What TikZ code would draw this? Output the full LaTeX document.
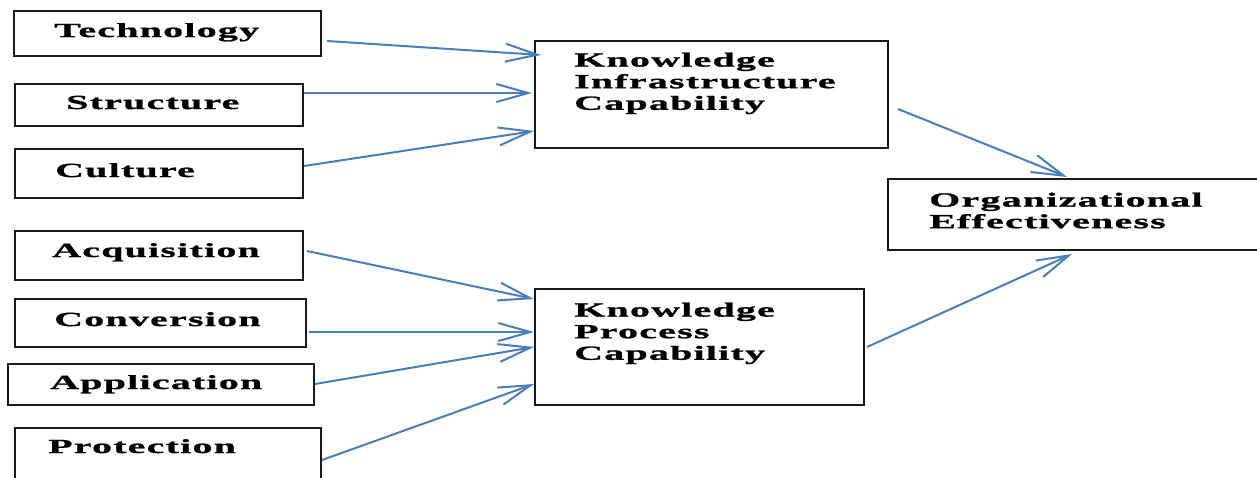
\documentclass[tikz,border=0pt]{standalone}
\usepackage{fontspec}
\setmainfont{Liberation Serif}[FakeStretch=2.0,LetterSpace=6,FakeBold=1.2]
\usetikzlibrary{arrows.meta,calc}
\definecolor{arrowblue}{RGB}{74,126,187}
\definecolor{boxline}{RGB}{25,25,25}
\tikzset{
  box/.style={draw=boxline, line width=2pt, anchor=north west, inner sep=0pt, fill=white},
  lbl/.style={anchor=base west, inner sep=0pt, font=\fontsize{20}{22}\selectfont\bfseries, text=black},
  mlbl/.style={anchor=north west, inner sep=0pt, align=left, font=\fontsize{20}{21.6}\selectfont\bfseries, text=black},
  conn/.style={draw=arrowblue, line width=2pt, -{Straight Barb[length=32pt,width=18pt]}}
}
\begin{document}
\begin{tikzpicture}[x=1pt,y=-1pt]
\useasboundingbox (0,0) rectangle (1257,477);
\fill[white] (0,0) rectangle (1257,477);
% left boxes
\node[box, minimum width=307pt, minimum height=45pt] (tech) at (13,10) {};
\node[box, minimum width=288pt, minimum height=42pt] (struct) at (14,83) {};
\node[box, minimum width=288pt, minimum height=49pt] (cult) at (14,148) {};
\node[box, minimum width=288pt, minimum height=49pt] (acq) at (14,230) {};
\node[box, minimum width=291pt, minimum height=48pt] (conv) at (14,298) {};
\node[box, minimum width=306pt, minimum height=41pt] (app) at (7,363) {};
\node[box, minimum width=306pt, minimum height=60pt] (prot) at (14,427) {};
% middle and right boxes
\node[box, minimum width=353pt, minimum height=107pt] (kic) at (534,40) {};
\node[box, minimum width=329pt, minimum height=116pt] (kpc) at (534,288) {};
\node[box, minimum width=372pt, minimum height=71pt] (oe) at (887,178) {};
% labels
\node[lbl] (techT) at (54,37) {Technology};
\node[lbl] (structT) at (66,109) {Structure};
\node[lbl] (cultT) at (55,177) {Culture};
\node[lbl] (acqT) at (52,257) {Acquisition};
\node[lbl] (convT) at (54,326) {Conversion};
\node[lbl] (appT) at (50,389) {Application};
\node[lbl] (protT) at (48,453) {Protection};
\node[mlbl] (kicT) at (574,52.5) {Knowledge\\Infrastructure\\Capability};
\node[mlbl] (kpcT) at (574,302.5) {Knowledge\\Process\\Capability};
\node[mlbl] (oeT) at (929,192.5) {Organizational\\Effectiveness};
% connectors
\draw[conn] ($(tech.north east)+(5,31)$) -- ($(kic.north west)+(7,15)$);
\draw[conn] ($(struct.north east)+(0,10)$) -- ($(kic.north west)+(-2,53)$);
\draw[conn] ($(cult.north east)+(0,18)$) -- ($(kic.north west)+(0,91)$);
\draw[conn] ($(acq.north east)+(3,21)$) -- ($(kpc.north west)+(0,11)$);
\draw[conn] ($(conv.north east)+(2,34)$) -- ($(kpc.north west)+(0,44)$);
\draw[conn] ($(app.north east)+(0,21)$) -- ($(kpc.north west)+(0,59)$);
\draw[conn] ($(prot.north east)+(0,33)$) -- ($(kpc.north west)+(0,96)$);
\draw[conn] ($(kic.north east)+(9,69)$) -- ($(oe.north west)+(180,-1)$);
\draw[conn] ($(kpc.north east)+(2,59)$) -- ($(oe.south west)+(185,3)$);
\end{tikzpicture}
\end{document}
